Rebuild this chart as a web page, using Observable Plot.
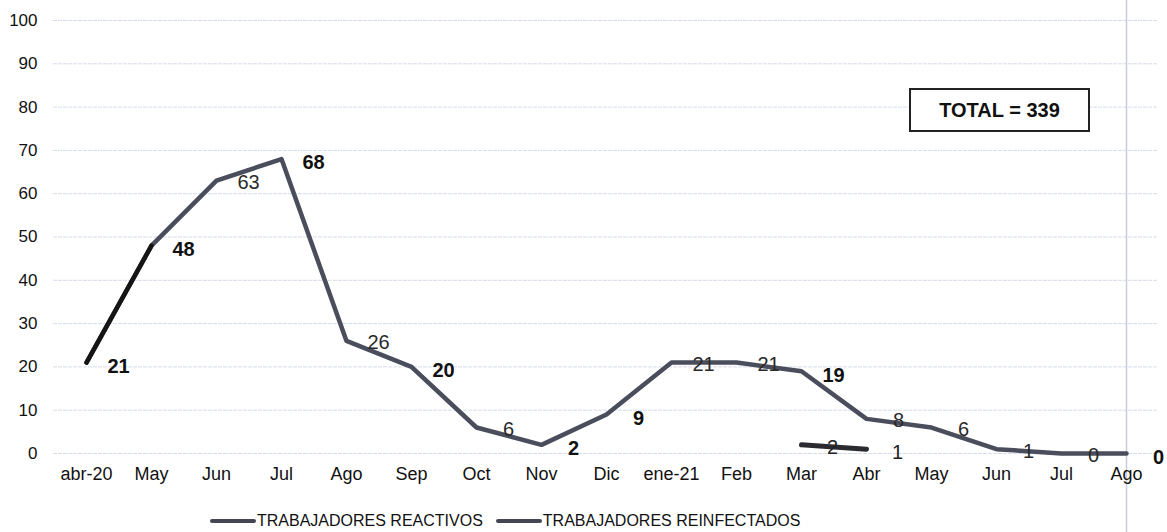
<!DOCTYPE html>
<html>
<head>
<meta charset="utf-8">
<script src="https://cdn.jsdelivr.net/npm/d3@7"></script>
<script src="https://cdn.jsdelivr.net/npm/@observablehq/plot@0.6"></script>
<style>
  html, body { margin: 0; padding: 0; background: #fff; }
  body { font-family: "Liberation Sans", Arial, sans-serif; width: 1167px; height: 532px; position: relative; overflow: hidden; }
  #chart { position: absolute; left: 0; top: 0; }
  #total { position: absolute; left: 909px; top: 88px; width: 177px; height: 40px; border: 2px solid #222;
           display: flex; align-items: center; justify-content: center; font-weight: bold; font-size: 20px; color: #111; background: #fff; }
  #legend { position: absolute; left: 210px; top: 511px; display: flex; font-size: 16px; color: #111; line-height: 20px; }
  .item { display: flex; align-items: center; }
  .sw { display: inline-block; width: 46px; height: 4px; background: #444654; border-radius: 2px; margin-right: 1px; }
</style>
</head>
<body>
<div id="chart"></div>
<div id="total">TOTAL = 339</div>
<div id="legend">
  <div class="item"><span class="sw"></span>TRABAJADORES REACTIVOS</div>
  <div class="item" style="margin-left:13px"><span class="sw"></span>TRABAJADORES REINFECTADOS</div>
</div>
<script>
const months = ["abr-20","May","Jun","Jul","Ago","Sep","Oct","Nov","Dic","ene-21","Feb","Mar","Abr","May ","Jun ","Jul ","Ago "];
const reactivos = [21,48,63,68,26,20,6,2,9,21,21,19,8,6,1,0,0];
const reinfMonths = ["Mar","Abr"];
const reinfectados = [2,1];
const yTicks = [0,10,20,30,40,50,60,70,80,90,100];

const dataR = months.map((m, i) => ({month: m, value: reactivos[i], i}));
const dataI = reinfMonths.map((m, i) => ({month: m, value: reinfectados[i], i}));

// styling lookup (which value labels are drawn bold)
const boldIdx = new Set([0,1,3,5,7,8,11,16]);

const chart = Plot.plot({
  width: 1167,
  height: 532,
  marginLeft: 53,
  marginRight: 9,
  marginTop: 20,
  marginBottom: 79,
  style: {fontFamily: "Liberation Sans, Arial, sans-serif", fontSize: "17px", color: "#111", background: "transparent"},
  x: {type: "point", domain: months, padding: 0.5, label: null, tickFormat: d => d.trim()},
  y: {domain: [0, 100], ticks: yTicks, label: null},
  marks: [
    Plot.gridY(yTicks, {stroke: "#d6dcea", strokeOpacity: 1, strokeDasharray: "4,1", strokeWidth: 1}),
    Plot.ruleX([months[months.length - 1]], {stroke: "#c9ccdc", strokeWidth: 1.5, insetTop: -20, insetBottom: -79, clip: false}),
    Plot.axisY({ticks: yTicks, tickSize: 0, tickPadding: 16, fontSize: 17, fill: "#111"}),
    Plot.axisX({tickSize: 0, tickPadding: 14, fontSize: 18, fill: "#111", tickFormat: d => d.trim()}),
    Plot.line(dataR, {x: "month", y: "value", stroke: "#4a4d5b", strokeWidth: 4.5, strokeLinejoin: "round"}),
    Plot.line(dataR.slice(0, 2), {x: "month", y: "value", stroke: "#151515", strokeWidth: 4.5, strokeLinecap: "round"}),
    Plot.line(dataI, {x: "month", y: "value", stroke: "#2a2a30", strokeWidth: 5, strokeLinecap: "round"}),
    Plot.text(dataR.filter(d => boldIdx.has(d.i)), {x: "month", y: "value", text: d => String(d.value), dx: 32, dy: 4, fontWeight: "bold", fontSize: 20, fill: "#111"}),
    Plot.text(dataR.filter(d => !boldIdx.has(d.i)), {x: "month", y: "value", text: d => String(d.value), dx: 32, dy: 2, fontSize: 20, fill: "#2a2a2a"}),
    Plot.text(dataI, {x: "month", y: "value", text: d => String(d.value), dx: 31, dy: 3, fontSize: 20, fontWeight: d => d.i === 1 ? "bold" : "normal", fill: "#222"})
  ]
});
document.getElementById("chart").appendChild(chart);
</script>
</body>
</html>
